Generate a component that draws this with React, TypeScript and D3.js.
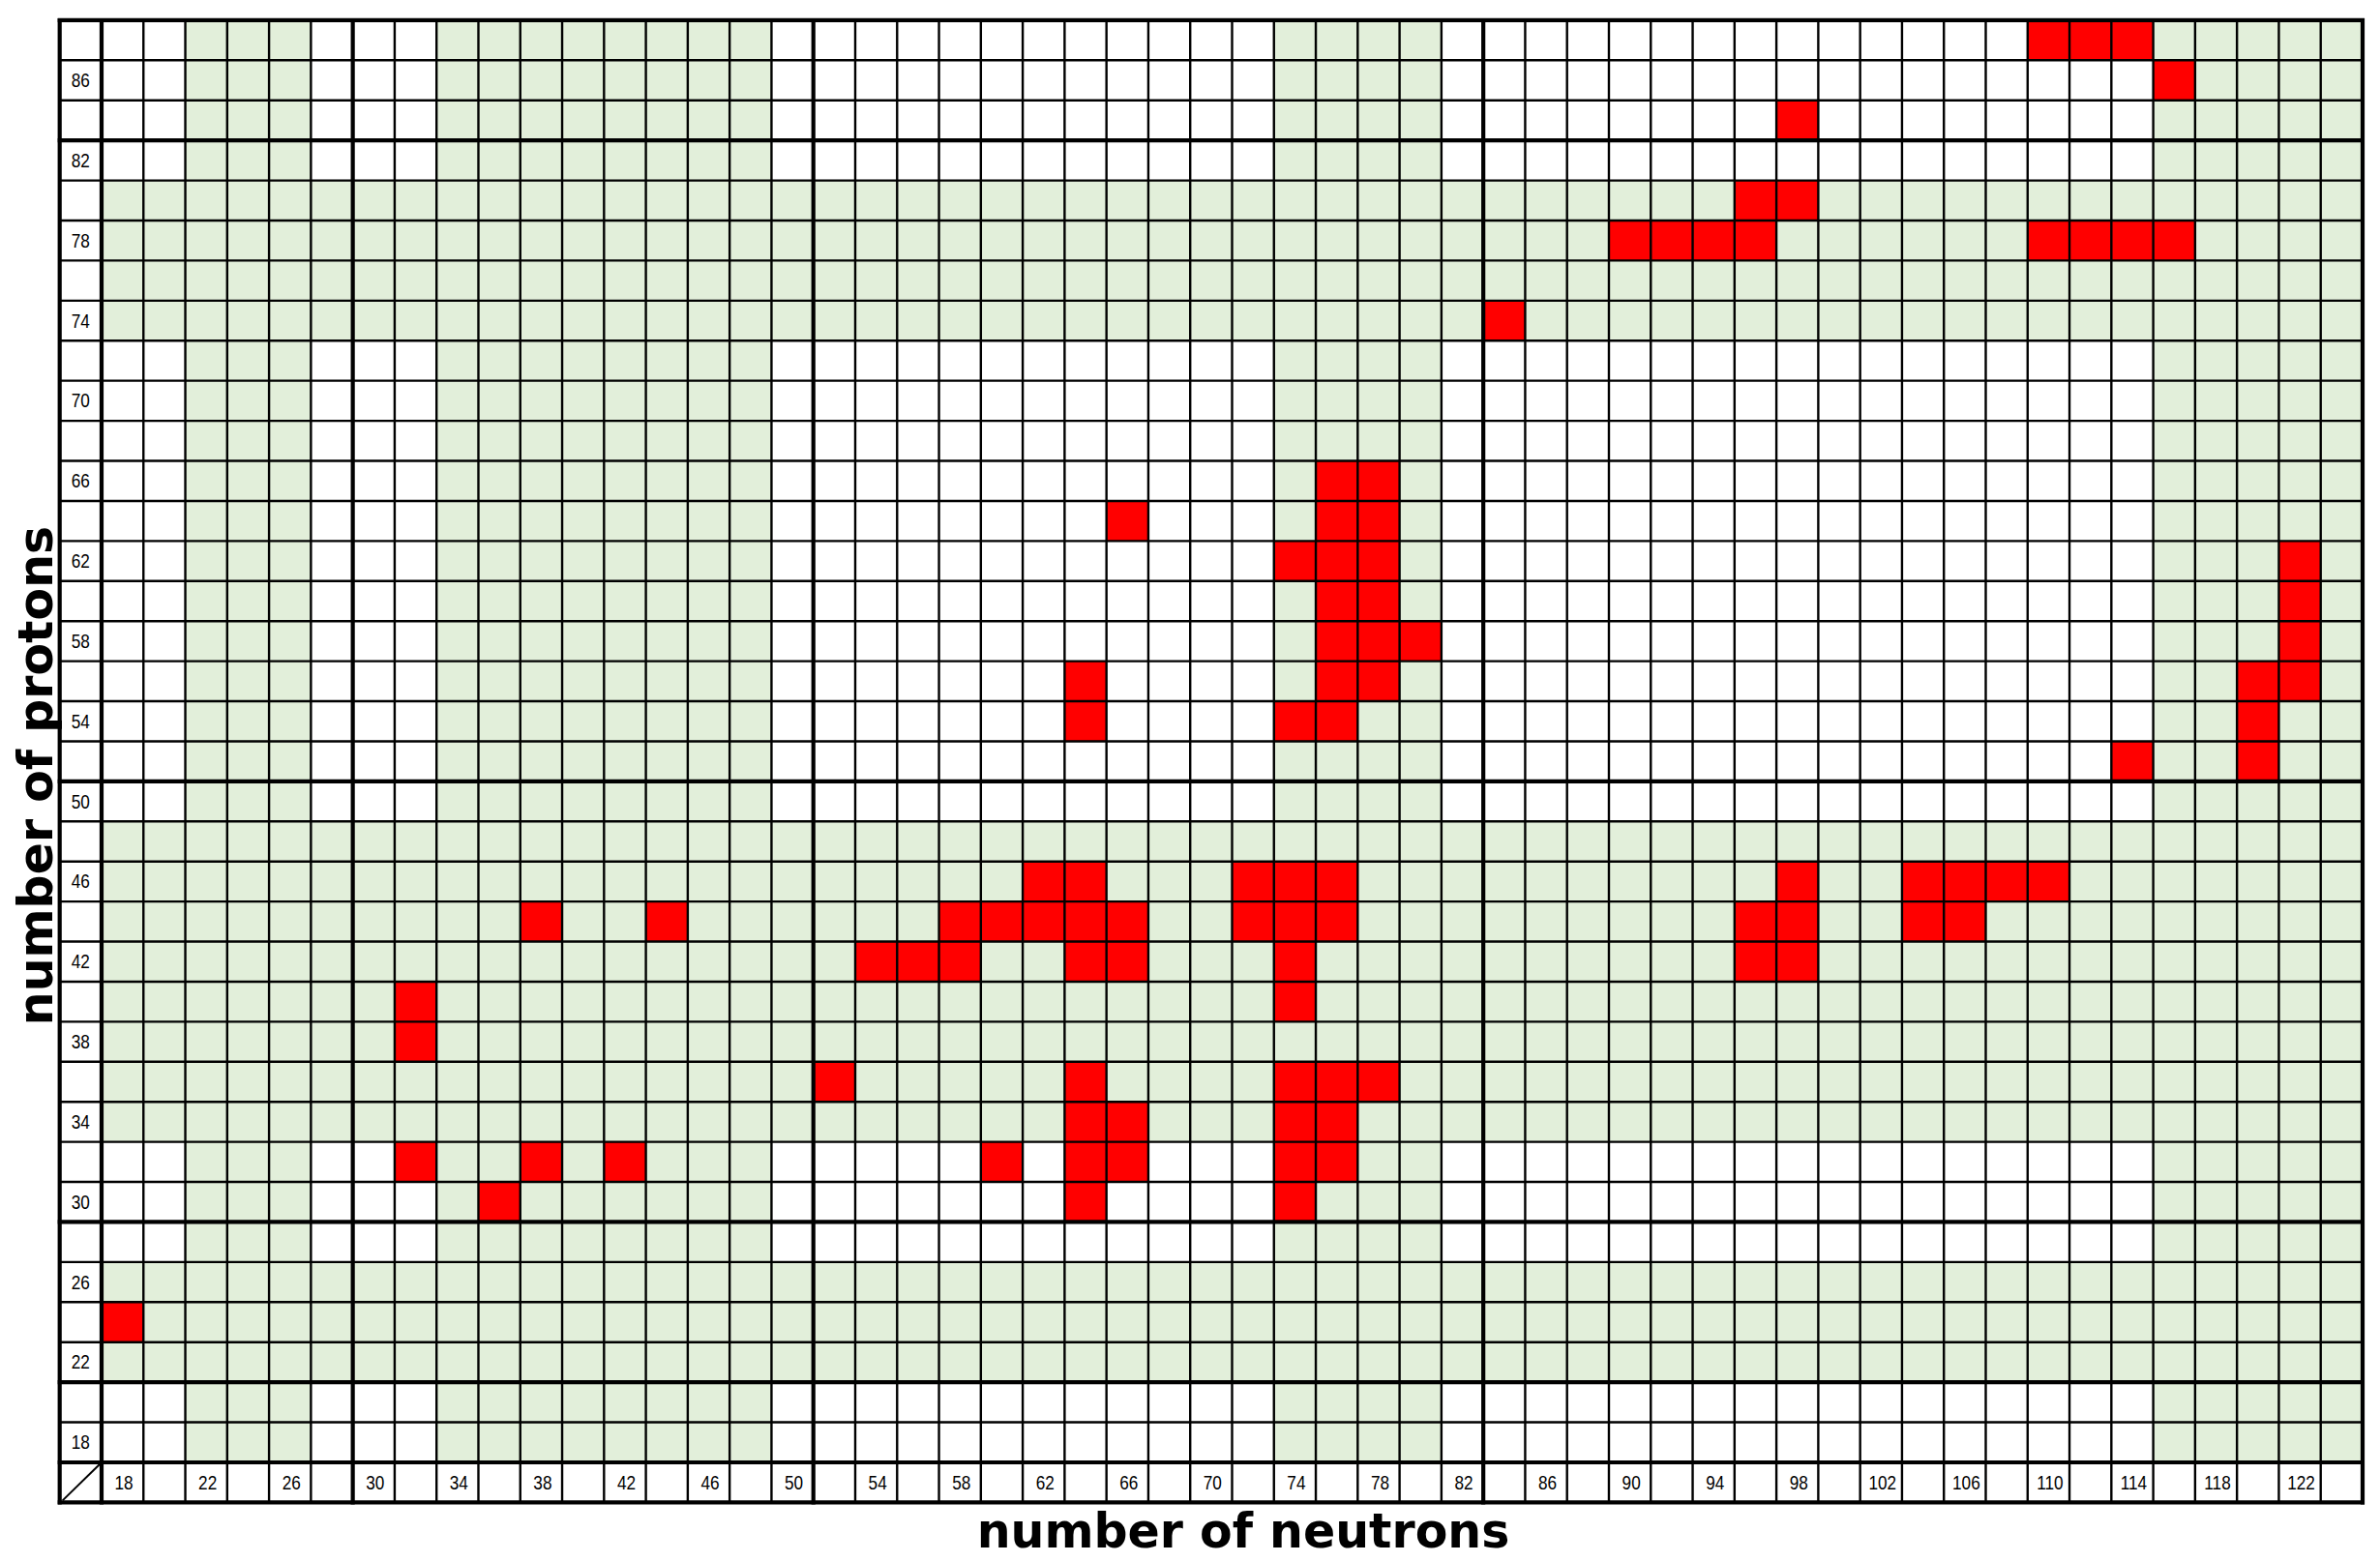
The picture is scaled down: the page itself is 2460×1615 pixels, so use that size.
import React from 'react';
import * as d3 from 'd3';

// Column categories: neutron numbers (even)
const neutrons = [18, 20, 22, 24, 26, 28, 30, 32, 34, 36, 38, 40, 42, 44, 46, 48, 50, 52, 54, 56, 58, 60, 62, 64, 66, 68, 70, 72, 74, 76, 78, 80, 82, 84, 86, 88, 90, 92, 94, 96, 98, 100, 102, 104, 106, 108, 110, 112, 114, 116, 118, 120, 122, 124];
// Row categories: proton numbers (even), top to bottom
const protons = [88, 86, 84, 82, 80, 78, 76, 74, 72, 70, 68, 66, 64, 62, 60, 58, 56, 54, 52, 50, 48, 46, 44, 42, 40, 38, 36, 34, 32, 30, 28, 26, 24, 22, 20, 18];

// Shaded (mid-shell) columns and rows
const shadedNeutrons = [22, 24, 26, 34, 36, 38, 40, 42, 44, 46, 48, 74, 76, 78, 80, 116, 118, 120, 122, 124];
const shadedProtons = [22, 24, 26, 34, 36, 38, 40, 42, 44, 46, 48, 74, 76, 78, 80];

// Magic numbers (thick separators after them)
const magicNeutrons = [28, 50, 82];
const magicProtons = [20, 28, 50, 82];

// Tick labels
const neutronTicks = [18, 22, 26, 30, 34, 38, 42, 46, 50, 54, 58, 62, 66, 70, 74, 78, 82, 86, 90, 94, 98, 102, 106, 110, 114, 118, 122];
const protonTicks = [86, 82, 78, 74, 70, 66, 62, 58, 54, 50, 46, 42, 38, 34, 30, 26, 22, 18];

// Highlighted nuclei [N, Z]
const highlighted: [number, number][] = [
  [110, 88], [112, 88], [114, 88],
  [116, 86],
  [98, 84],
  [96, 80], [98, 80],
  [90, 78], [92, 78], [94, 78], [96, 78], [110, 78], [112, 78], [114, 78], [116, 78],
  [84, 74],
  [76, 66], [78, 66],
  [66, 64], [76, 64], [78, 64],
  [74, 62], [76, 62], [78, 62], [122, 62],
  [76, 60], [78, 60], [122, 60],
  [76, 58], [78, 58], [80, 58], [122, 58],
  [64, 56], [76, 56], [78, 56], [120, 56], [122, 56],
  [64, 54], [74, 54], [76, 54], [120, 54],
  [114, 52], [120, 52],
  [62, 46], [64, 46], [72, 46], [74, 46], [76, 46], [98, 46], [104, 46], [106, 46], [108, 46], [110, 46],
  [38, 44], [44, 44], [58, 44], [60, 44], [62, 44], [64, 44], [66, 44], [72, 44], [74, 44], [76, 44], [96, 44], [98, 44], [104, 44], [106, 44],
  [54, 42], [56, 42], [58, 42], [64, 42], [66, 42], [74, 42], [96, 42], [98, 42],
  [32, 40], [74, 40],
  [32, 38],
  [52, 36], [64, 36], [74, 36], [76, 36], [78, 36],
  [64, 34], [66, 34], [74, 34], [76, 34],
  [32, 32], [38, 32], [42, 32], [60, 32], [64, 32], [66, 32], [74, 32], [76, 32],
  [36, 30], [64, 30], [74, 30],
  [18, 24],
];

const GREEN = '#e2efda';
const RED = '#ff0000';

export default function App() {
  const W = 2460;
  const H = 1615;
  const colKeys = ['corner', ...neutrons.map(String)];
  const rowKeys = [...protons.map(String), 'axis'];
  const x = d3.scaleBand<string>().domain(colKeys).range([61.7, 2442]);
  const y = d3.scaleBand<string>().domain(rowKeys).range([20.9, 1553.4]);
  const cw = x.bandwidth();
  const rh = y.bandwidth();
  const x0 = x.range()[0], x1 = x.range()[1];
  const y0 = y.range()[0], y1 = y.range()[1];

  const redSet = new Set(highlighted.map(([n, p]) => `${n}-${p}`));
  const cells: { n: number; p: number; fill: string }[] = [];
  protons.forEach((p) => {
    neutrons.forEach((n) => {
      let fill = '#ffffff';
      if (redSet.has(`${n}-${p}`)) fill = RED;
      else if (shadedNeutrons.includes(n) || shadedProtons.includes(p)) fill = GREEN;
      cells.push({ n, p, fill });
    });
  });

  const thickX = new Set<number>([0, 1, colKeys.length]);
  magicNeutrons.forEach((m) => thickX.add(colKeys.indexOf(String(m)) + 1));
  const thickY = new Set<number>([0, rowKeys.length - 1, rowKeys.length]);
  magicProtons.forEach((m) => thickY.add(rowKeys.indexOf(String(m))));

  const vLines = d3.range(colKeys.length + 1).map((i) => ({ pos: x0 + i * cw, thick: thickX.has(i) }));
  const hLines = d3.range(rowKeys.length + 1).map((j) => ({ pos: y0 + j * rh, thick: thickY.has(j) }));

  const labelFont = "'Liberation Sans', Arial, sans-serif";
  const titleFont = "'DejaVu Sans', sans-serif";

  return (
    <svg width={W} height={H} style={{ position: 'absolute', left: 0, top: 0, background: '#fff' }}>
      <rect x={0} y={0} width={W} height={H} fill="#fff" />
      {cells.map((c) => (
        <rect
          key={`${c.n}-${c.p}`}
          x={x(String(c.n))}
          y={y(String(c.p))}
          width={cw}
          height={rh}
          fill={c.fill}
        />
      ))}
      {vLines.filter((l) => !l.thick).map((l, i) => (
        <line key={`vt${i}`} x1={l.pos} x2={l.pos} y1={y0} y2={y1} stroke="#000" strokeWidth={2.4} />
      ))}
      {hLines.filter((l) => !l.thick).map((l, i) => (
        <line key={`ht${i}`} x1={x0} x2={x1} y1={l.pos} y2={l.pos} stroke="#000" strokeWidth={2.4} />
      ))}
      {vLines.filter((l) => l.thick).map((l, i) => (
        <line key={`vk${i}`} x1={l.pos} x2={l.pos} y1={y0 - 2} y2={y1 + 2} stroke="#000" strokeWidth={4.2} />
      ))}
      {hLines.filter((l) => l.thick).map((l, i) => (
        <line key={`hk${i}`} x1={x0 - 2} x2={x1 + 2} y1={l.pos} y2={l.pos} stroke="#000" strokeWidth={4.2} />
      ))}
      {/* corner slash */}
      <line
        x1={(x('corner') as number) + 3}
        y1={(y('axis') as number) + rh - 2}
        x2={(x('corner') as number) + cw - 2}
        y2={(y('axis') as number) + 2}
        stroke="#000"
        strokeWidth={2}
      />
      {protonTicks.map((p) => {
        const cx = (x('corner') as number) + cw / 2;
        const cy = (y(String(p)) as number) + rh / 2;
        return (
          <text
            key={`pl${p}`}
            transform={`translate(${cx},${cy}) scale(0.86,1)`}
            textAnchor="middle"
            dominantBaseline="central"
            fontFamily={labelFont}
            fontSize={20}
            fill="#000"
          >
            {p}
          </text>
        );
      })}
      {neutronTicks.map((n) => {
        const cx = (x(String(n)) as number) + cw / 2 + 1.5;
        const cy = (y('axis') as number) + rh / 2;
        return (
          <text
            key={`nl${n}`}
            transform={`translate(${cx},${cy}) scale(0.86,1)`}
            textAnchor="middle"
            dominantBaseline="central"
            fontFamily={labelFont}
            fontSize={20}
            fill="#000"
          >
            {n}
          </text>
        );
      })}
      <text
        x={1285}
        y={1600}
        textAnchor="middle"
        fontFamily={titleFont}
        fontWeight="bold"
        fontSize={49}
        fill="#000"
      >
        number of neutrons
      </text>
      <text
        transform="translate(54,802) rotate(-90)"
        textAnchor="middle"
        fontFamily={titleFont}
        fontWeight="bold"
        fontSize={49}
        fill="#000"
      >
        number of protons
      </text>
    </svg>
  );
}
